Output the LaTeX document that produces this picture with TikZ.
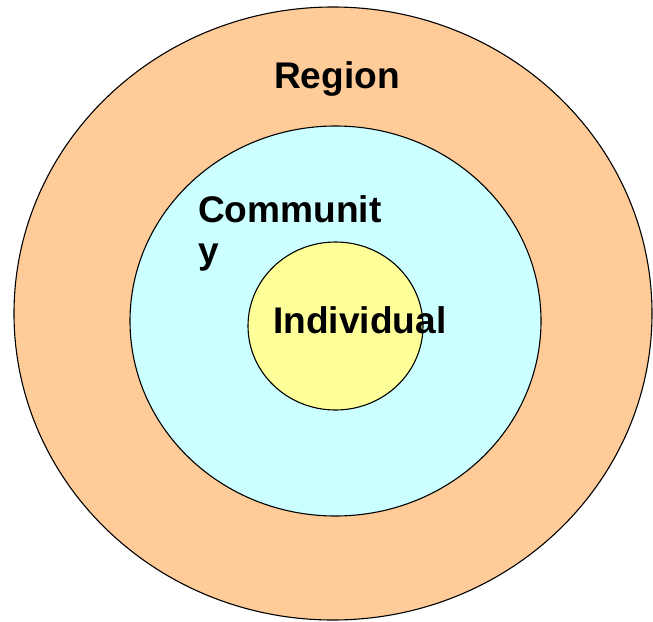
\documentclass[tikz,border=0pt]{standalone}
\usepackage{fontspec}
\setmainfont{Liberation Sans}
\usepackage{tikz}
\definecolor{regionfill}{HTML}{FFCC99}
\definecolor{communityfill}{HTML}{CCFFFF}
\definecolor{individualfill}{HTML}{FFFF99}
\tikzset{
    ring/.style={draw=black, line width=1.1pt},
    levellabel/.style={font=\fontsize{37.1}{41}\selectfont\bfseries, inner sep=0pt}
}

\begin{document}
\begin{tikzpicture}[x=1pt, y=-1pt]
            \useasboundingbox (0, 0) rectangle (653, 621);
            \fill[regionfill, ring] (333, 313.5) ellipse [x radius = 319, y radius = 306.5];
            \fill[communityfill, ring] (335.5, 321) ellipse [x radius = 205.5, y radius = 195];
            \fill[individualfill, ring] (335.5, 326) ellipse [x radius = 87.5, y radius = 84];
            \node[levellabel, anchor=base] (region) at (337, 88) {Region};
            \node[levellabel, anchor=base west, align=left] (community) at (198, 263) {Communit\\y};
            \node[levellabel, anchor=base west] (individual) at (273, 333) {Individual};
        \end{tikzpicture}
\end{document}
